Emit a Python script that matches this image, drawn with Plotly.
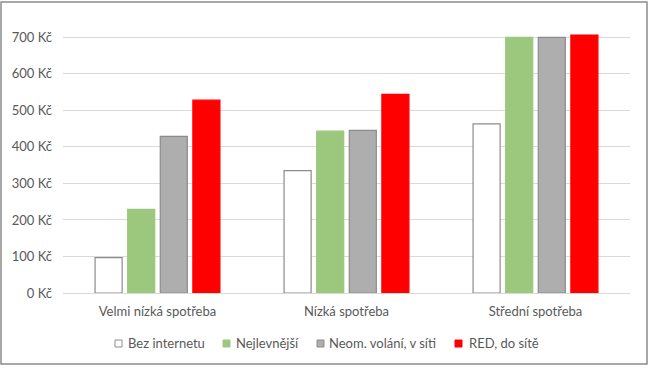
import plotly.graph_objects as go

categories = ["Velmi nízká spotřeba", "Nízká spotřeba", "Střední spotřeba"]
series_names = ["Bez internetu", "Nejlevnější", "Neom. volání, v síti", "RED, do sítě"]
bez_internetu = [97, 335, 463]
nejlevnejsi = [229, 443, 700]
neom_volani = [429, 445, 700]
red_do_site = [528, 544, 706]
y_ticks = [0, 100, 200, 300, 400, 500, 600, 700]
y_tick_labels = ["0 Kč", "100 Kč", "200 Kč", "300 Kč", "400 Kč", "500 Kč", "600 Kč", "700 Kč"]

series_values = [bez_internetu, nejlevnejsi, neom_volani, red_do_site]
fills = ["#FFFFFF", "#9BC87C", "#AEAEAE", "#FF0000"]
borders = ["#8C8C8C", "#9BC87C", "#8C8C8C", "#FF0000"]

font_family = "Lato, 'Open Sans', sans-serif"
text_color = "#595959"

W, H = 650, 368
ml, mr, mt, mb = 63, 20, 30, 75
pw = W - ml - mr
ph = H - mt - mb


def px_x(p):
    return (p - ml) / pw


def px_y(p):
    return ((H - mb) - p) / ph


fig = go.Figure()
for name, vals, fc, bc in zip(series_names, series_values, fills, borders):
    fig.add_trace(go.Bar(
        x=categories, y=vals, name=name,
        marker=dict(color=fc, line=dict(color=bc, width=1.2)),
        showlegend=False,
    ))

# manual legend (Excel-like tight spacing)
legend_sym_x = [115, 223, 317, 455]
legend_txt_x = [126, 234, 327, 467]
legend_y = 343
shapes = [dict(
    type="rect", xref="paper", yref="paper",
    x0=px_x(1), x1=px_x(647), y0=px_y(364), y1=px_y(2),
    line=dict(color="#8C8C8C", width=1.5), fillcolor="rgba(0,0,0,0)",
    layer="below",
)]
annotations = []
for name, fc, bc, sx, tx in zip(series_names, fills, borders, legend_sym_x, legend_txt_x):
    shapes.append(dict(
        type="rect", xref="paper", yref="paper",
        x0=px_x(sx), x1=px_x(sx + 7), y0=px_y(legend_y + 4), y1=px_y(legend_y - 3),
        line=dict(color=bc, width=1), fillcolor=fc, layer="above",
    ))
    annotations.append(dict(
        text=name, xref="paper", yref="paper", x=px_x(tx), y=px_y(legend_y),
        xanchor="left", yanchor="middle", showarrow=False,
        font=dict(size=13, color=text_color, family=font_family),
    ))

fig.update_layout(
    width=W, height=H,
    margin=dict(l=ml, r=mr, t=mt, b=mb, autoexpand=False),
    paper_bgcolor="white", plot_bgcolor="white",
    barmode="group", bargap=0.31, bargroupgap=0.17,
    font=dict(family=font_family, size=13, color=text_color),
    showlegend=False,
    xaxis=dict(
        showgrid=False, showline=True, linecolor="#D9D9D9", linewidth=1,
        ticks="", tickfont=dict(size=13, color=text_color), automargin=False,
        ticklabelstandoff=6,
    ),
    yaxis=dict(
        range=[0, 720], tickvals=y_ticks, ticktext=y_tick_labels,
        showgrid=True, gridcolor="#D9D9D9", gridwidth=1,
        zeroline=False, showline=False, ticks="",
        tickfont=dict(size=13, color=text_color), ticklabelstandoff=10,
        automargin=False,
    ),
    shapes=shapes,
    annotations=annotations,
)

fig.write_html("out.html", config={"displayModeBar": False},
               post_script="document.body.style.margin='0';")
